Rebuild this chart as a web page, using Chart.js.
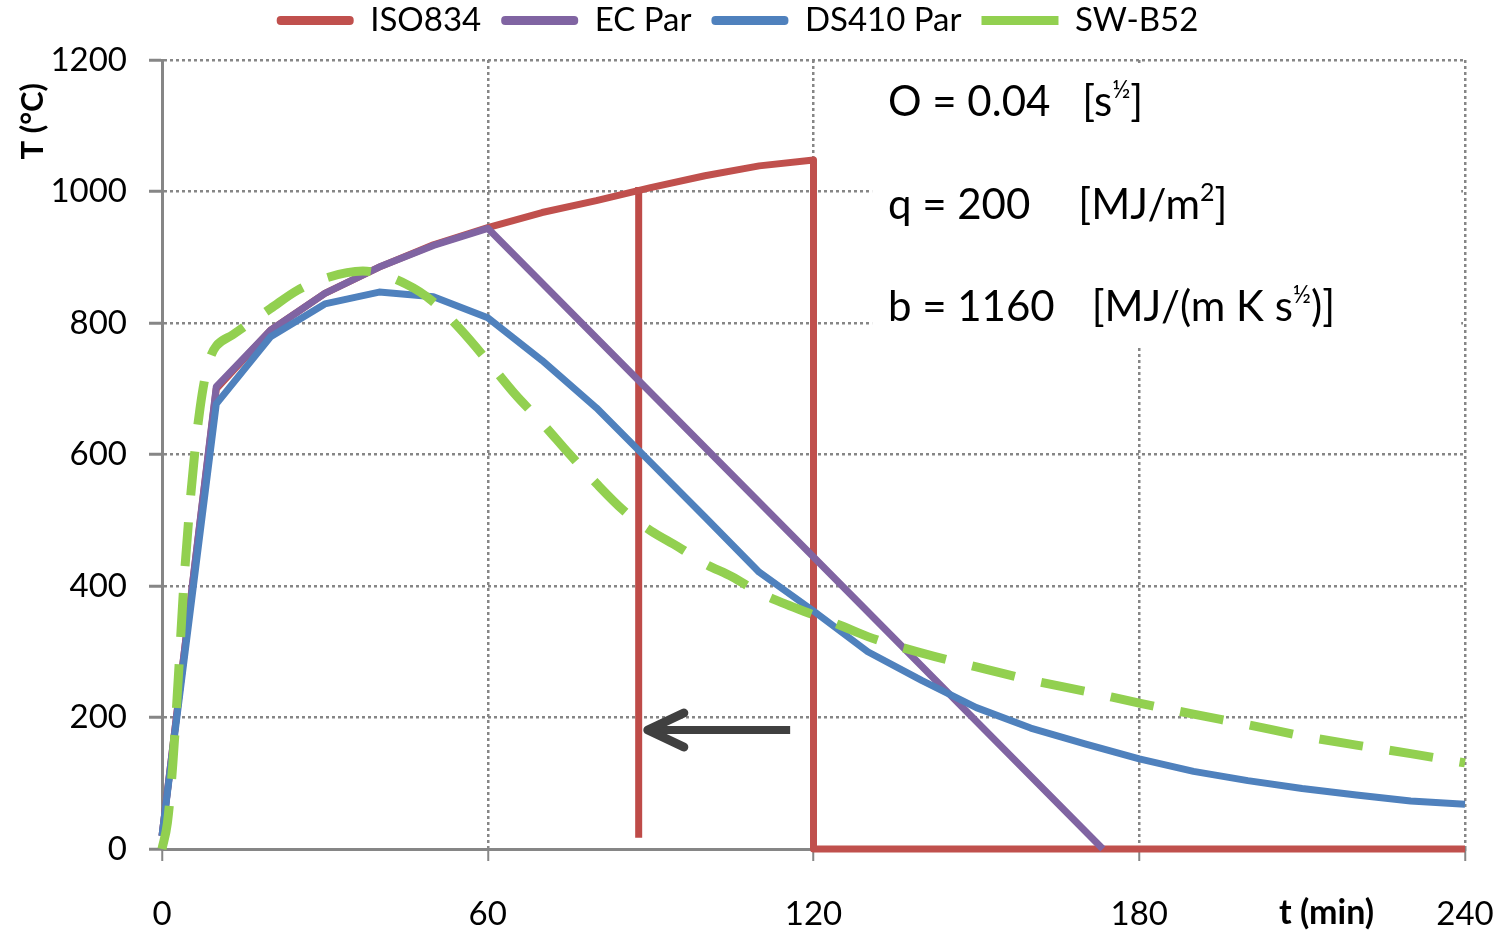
<!DOCTYPE html>
<html>
<head>
<meta charset="utf-8">
<script src="https://cdn.jsdelivr.net/npm/chart.js@4"></script>
<style>
  html, body { margin: 0; padding: 0; background: #fff; }
  canvas { display: block; }
</style>
</head>
<body>
<canvas id="fireChart" width="1503" height="934"></canvas>
<script>
// axis ticks
const timeTicks = [0, 60, 120, 180, 240];
const tempTicks = [0, 200, 400, 600, 800, 1000, 1200];

// ISO834 standard curve, cut off at 120 min
const isoTime = [0, 10, 20, 30, 40, 50, 60, 70, 80, 90, 100, 110, 120, 120, 240];
const isoTemp = [20, 700, 789, 845, 885, 919, 945, 968, 986, 1006, 1024, 1039, 1048, 0, 0];

// EC parametric curve
const ecTime = [0, 10, 20, 30, 40, 50, 60, 173.3];
const ecTemp = [20, 703, 789, 845, 885, 918, 944, 0];

// DS410 parametric curve
const dsTime = [0, 10, 20, 30, 40, 50, 60, 70, 80, 90, 100, 110, 120, 130, 140, 150, 160, 170, 180, 190, 200, 210, 220, 230, 240];
const dsTemp = [20, 677, 779, 829, 847, 840, 808, 743, 671, 588, 505, 421, 362, 300, 256, 215, 184, 160, 137, 118, 104, 92, 82, 73, 68];

// SW-B52 curve
const swTime = [0, 1, 2, 3, 4, 5, 6, 7, 8, 9, 10, 13, 20, 25, 30, 37, 45, 50, 55, 60, 65, 70, 75, 80, 85, 90, 95, 100, 105, 110, 115, 120, 125, 130, 140, 150, 160, 170, 180, 190, 200, 210, 220, 230, 240];
const swTemp = [0, 40, 130, 260, 400, 510, 600, 670, 720, 750, 765, 782, 822, 850, 868, 879, 859, 832, 790, 742, 692, 648, 601, 556, 515, 484, 460, 434, 414, 390, 372, 356, 340, 323, 298, 277, 257, 240, 222, 205, 189, 172, 158, 145, 131];

// equivalent time marker and arrow
const cutTime = [87.8, 87.8];
const cutTemp = [1007, 17];
const arrowTime = [115.7, 89.3];
const arrowTemp = [181, 181];

// parameter box
const paramRows = [
  { label: 'O = 0.04', gap: 32, unit: [['[s'], ['½', true], [']']], temp: 1136 },
  { label: 'q = 200', gap: 48, unit: [['[MJ/m'], ['2', true], [']']], temp: 979 },
  { label: 'b = 1160', gap: 37, unit: [['[MJ/(m K s'], ['½', true], [')]']], temp: 824 }
];

const FONT = 'Lato, "Open Sans", sans-serif';
const RED = '#C0504D', PURPLE = '#8064A2', BLUE = '#4F81BD', GREEN = '#92D050';
const GRID = '#868686';

const pts = (xs, ys) => xs.map((x, i) => ({ x: x, y: ys[i] }));

// legend sits higher than chart.js puts it, chart area starts at its bottom
const legendFit = {
  id: 'legendFit',
  beforeLayout(chart) {
    const legend = chart.legend;
    if (!legend || legend._patched) return;
    const fit = legend.fit;
    legend.fit = function () {
      fit.call(this);
      this.height = 76;
    };
    legend._patched = true;
  }
};

// white box with the fire parameters, covers the grid behind it
const paramBox = {
  id: 'paramBox',
  beforeDatasetsDraw(chart) {
    const { ctx, scales: { x, y } } = chart;
    const left = x.getPixelForValue(130.8), right = x.getPixelForValue(239.3);
    const top = y.getPixelForValue(1195), bottom = y.getPixelForValue(766);
    ctx.save();
    ctx.fillStyle = '#fff';
    ctx.fillRect(left, top, right - left, bottom - top);
    ctx.fillStyle = '#000';
    ctx.textBaseline = 'middle';
    const tx = x.getPixelForValue(133.7);
    paramRows.forEach(row => {
      const ty = y.getPixelForValue(row.temp);
      ctx.font = '42px ' + FONT;
      ctx.fillText(row.label, tx, ty);
      let ux = tx + ctx.measureText(row.label).width + row.gap;
      row.unit.forEach(([txt, sup]) => {
        ctx.font = (sup ? '25px ' : '42px ') + FONT;
        ctx.fillText(txt, ux, sup ? ty - 12 : ty);
        ux += ctx.measureText(txt).width;
      });
    });
    ctx.restore();
  }
};

// arrow head on the end of the arrow dataset, axis titles
const extras = {
  id: 'extras',
  afterDatasetsDraw(chart) {
    const ctx = chart.ctx;
    const idx = chart.data.datasets.findIndex(d => d.isArrow);
    const tip = chart.getDatasetMeta(idx).data[1];
    ctx.save();
    ctx.strokeStyle = '#404040';
    ctx.lineWidth = 9;
    ctx.lineCap = 'round';
    ctx.lineJoin = 'round';
    ctx.beginPath();
    ctx.moveTo(tip.x + 37, tip.y - 17);
    ctx.lineTo(tip.x + 1, tip.y);
    ctx.lineTo(tip.x + 37, tip.y + 17);
    ctx.stroke();
    ctx.restore();
  },
  afterDraw(chart) {
    const { ctx, scales: { x, y }, chartArea } = chart;
    ctx.save();
    ctx.fillStyle = '#000';
    ctx.font = 'bold 31px ' + FONT;
    ctx.textAlign = 'center';
    ctx.textBaseline = 'middle';
    ctx.translate(33, y.getPixelForValue(1107));
    ctx.rotate(-Math.PI / 2);
    ctx.fillText('T (°C)', 0, 0);
    ctx.restore();
    ctx.save();
    ctx.fillStyle = '#000';
    ctx.font = 'bold 34px ' + FONT;
    ctx.textAlign = 'center';
    ctx.textBaseline = 'middle';
    ctx.fillText('t (min)', x.getPixelForValue(214.5), chartArea.bottom + 64);
    ctx.restore();
  }
};

new Chart(document.getElementById('fireChart'), {
  type: 'line',
  data: {
    datasets: [
      { label: 'ISO834', data: pts(isoTime, isoTemp), borderColor: RED, borderWidth: 7, order: 4,
        borderJoinStyle: 'round' },
      { label: 'EC Par', data: pts(ecTime, ecTemp), borderColor: PURPLE, borderWidth: 7, order: 3,
        borderJoinStyle: 'round' },
      { label: 'DS410 Par', data: pts(dsTime, dsTemp), borderColor: BLUE, borderWidth: 7, order: 2,
        borderJoinStyle: 'round' },
      { label: 'SW-B52', data: pts(swTime, swTemp), borderColor: GREEN, borderWidth: 9, order: 1,
        borderDash: [44, 27], cubicInterpolationMode: 'monotone' },
      { label: '', data: pts(cutTime, cutTemp), borderColor: '#BE4B48', borderWidth: 7, order: 5, noLegend: true },
      { label: '', data: pts(arrowTime, arrowTemp), borderColor: '#404040', borderWidth: 8, order: 0,
        noLegend: true, isArrow: true }
    ]
  },
  options: {
    responsive: false,
    animation: false,
    devicePixelRatio: 1,
    clip: false,
    layout: { padding: { left: 10, right: 38, top: -16, bottom: 0 } },
    elements: {
      point: { radius: 0, hoverRadius: 0 },
      line: { tension: 0, fill: false, borderCapStyle: 'butt' }
    },
    plugins: {
      tooltip: { enabled: false },
      legend: {
        position: 'top',
        labels: {
          font: { family: FONT, size: 33 },
          color: '#000',
          boxWidth: 77,
          boxHeight: 9,
          padding: 20,
          useBorderRadius: true,
          generateLabels: chart => chart.data.datasets
            .map((ds, i) => ({
              text: ds.label, fillStyle: ds.borderColor, strokeStyle: ds.borderColor,
              lineWidth: 0, datasetIndex: i, hidden: false, borderRadius: ds.borderDash ? 0 : 4,
              noLegend: ds.noLegend
            }))
            .filter(item => !item.noLegend)
        }
      }
    },
    scales: {
      x: {
        type: 'linear',
        min: 0,
        max: 240,
        afterBuildTicks: scale => { scale.ticks = timeTicks.map(v => ({ value: v })); },
        afterFit: scale => {
          scale.height = 85;
          scale.paddingLeft = 0;
          scale.paddingRight = 0;
        },
        border: { display: true, color: GRID, width: 3, dash: [3, 3] },
        grid: {
          color: GRID, lineWidth: 2.5,
          tickLength: 12, tickColor: GRID, tickWidth: 2, tickBorderDash: []
        },
        ticks: { font: { family: FONT, size: 33 }, color: '#000', padding: 34, maxRotation: 0,
          callback: v => String(v) }
      },
      y: {
        min: 0,
        max: 1200,
        afterBuildTicks: scale => { scale.ticks = tempTicks.map(v => ({ value: v })); },
        afterFit: scale => { scale.width = 152; },
        border: { display: true, color: GRID, width: 3, dash: [3, 3] },
        grid: {
          color: GRID, lineWidth: 2.5,
          tickLength: 13, tickColor: GRID, tickWidth: 3, tickBorderDash: []
        },
        ticks: { font: { family: FONT, size: 33 }, color: '#000', padding: 22,
          callback: v => String(v) }
      }
    }
  },
  plugins: [legendFit, paramBox, extras]
});
</script>
</body>
</html>
